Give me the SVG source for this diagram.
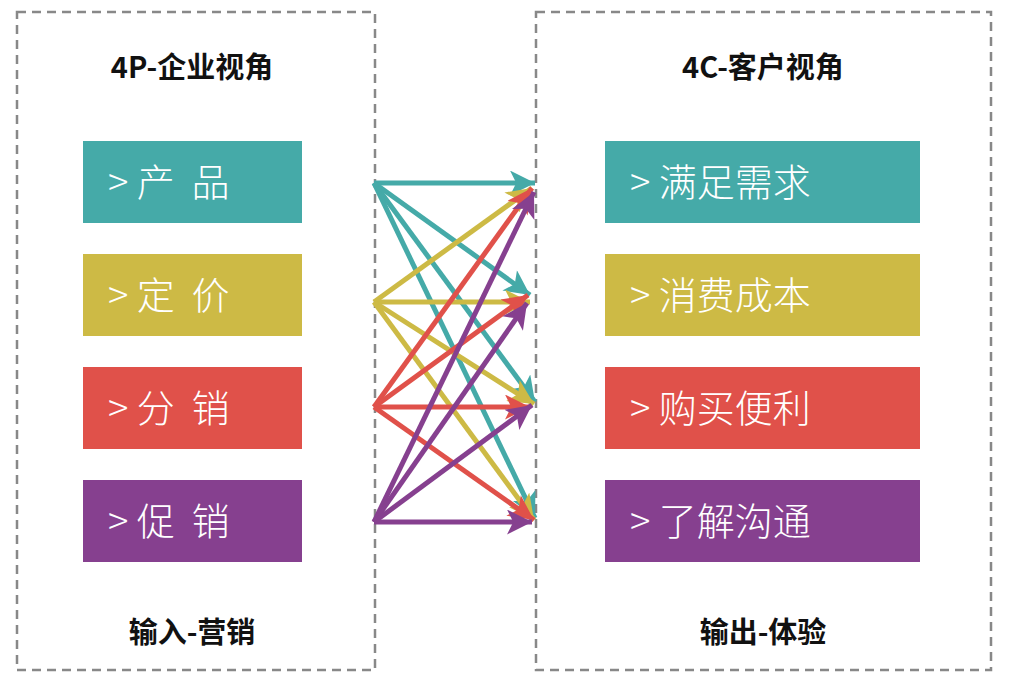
<svg xmlns="http://www.w3.org/2000/svg" width="1010" height="682" viewBox="0 0 1010 682">
<style>
.frame{fill:none;stroke:#888;stroke-width:2.5;stroke-dasharray:9 6}
.t{font-family:"Noto Sans CJK SC",sans-serif;font-weight:bold;font-size:29px;fill:#111;text-anchor:middle}
.l{font-family:"Noto Sans CJK SC",sans-serif;font-weight:300;font-size:38px;fill:#fff}
.c1{fill:#45AAA8}.c2{fill:#CDBA45}.c3{fill:#E0514A}.c4{fill:#86408F}
.a{stroke-width:5;fill:none}
</style>
<defs>
<marker id="m1" viewBox="0 0 10 10" refX="10" refY="5" markerWidth="5.5" markerHeight="5" orient="auto" markerUnits="strokeWidth"><path d="M0,0 L10,5 L0,10 L2.5,5z" fill="#45AAA8"/></marker>
<marker id="m2" viewBox="0 0 10 10" refX="10" refY="5" markerWidth="5.5" markerHeight="5" orient="auto" markerUnits="strokeWidth"><path d="M0,0 L10,5 L0,10 L2.5,5z" fill="#CDBA45"/></marker>
<marker id="m3" viewBox="0 0 10 10" refX="10" refY="5" markerWidth="5.5" markerHeight="5" orient="auto" markerUnits="strokeWidth"><path d="M0,0 L10,5 L0,10 L2.5,5z" fill="#E0514A"/></marker>
<marker id="m4" viewBox="0 0 10 10" refX="10" refY="5" markerWidth="5.5" markerHeight="5" orient="auto" markerUnits="strokeWidth"><path d="M0,0 L10,5 L0,10 L2.5,5z" fill="#86408F"/></marker>
</defs>
<rect width="1010" height="682" fill="#fff"/>
<g id="left-frame"><rect class="frame" x="17" y="12" width="358" height="658"/>
<text class="t" x="192" y="78">4P-企业视角</text><text class="t" x="192" y="643">输入-营销</text></g>
<g id="right-frame"><rect class="frame" x="536" y="12" width="455" height="658"/>
<text class="t" x="763" y="78">4C-客户视角</text><text class="t" x="763" y="643">输出-体验</text></g>
<g id="p1"><rect class="c1" x="83" y="141" width="219" height="82"/><text class="l" x="108" y="196" xml:space="preserve">&gt; 产  品</text></g>
<g id="p2"><rect class="c2" x="83" y="254" width="219" height="82"/><text class="l" x="108" y="309" xml:space="preserve">&gt; 定  价</text></g>
<g id="p3"><rect class="c3" x="83" y="367" width="219" height="82"/><text class="l" x="108" y="422" xml:space="preserve">&gt; 分  销</text></g>
<g id="p4"><rect class="c4" x="83" y="480" width="219" height="82"/><text class="l" x="108" y="535" xml:space="preserve">&gt; 促  销</text></g>
<g id="c1"><rect class="c1" x="605" y="141" width="315" height="82"/><text class="l" x="630" y="196">&gt; 满足需求</text></g>
<g id="c2"><rect class="c2" x="605" y="254" width="315" height="82"/><text class="l" x="630" y="309">&gt; 消费成本</text></g>
<g id="c3"><rect class="c3" x="605" y="367" width="315" height="82"/><text class="l" x="630" y="422">&gt; 购买便利</text></g>
<g id="c4"><rect class="c4" x="605" y="480" width="315" height="82"/><text class="l" x="630" y="535">&gt; 了解沟通</text></g>
<g id="connectors">
<g stroke="#45AAA8" class="a" marker-end="url(#m1)">
<line x1="374" y1="183" x2="535" y2="183"/><line x1="374" y1="183" x2="530" y2="295"/><line x1="374" y1="183" x2="535" y2="402"/><line x1="374" y1="183" x2="535" y2="518"/></g>
<g stroke="#CDBA45" class="a" marker-end="url(#m2)">
<line x1="374" y1="302" x2="532" y2="188"/><line x1="374" y1="302" x2="530" y2="302"/><line x1="374" y1="302" x2="534" y2="404"/><line x1="374" y1="302" x2="534" y2="520"/></g>
<g stroke="#E0514A" class="a" marker-end="url(#m3)">
<line x1="374" y1="407" x2="532" y2="188"/><line x1="374" y1="407" x2="528" y2="295"/><line x1="374" y1="407" x2="530" y2="407"/><line x1="374" y1="407" x2="534" y2="520"/></g>
<g stroke="#86408F" class="a" marker-end="url(#m4)">
<line x1="374" y1="522" x2="534" y2="192"/><line x1="374" y1="522" x2="527" y2="303"/><line x1="374" y1="522" x2="532" y2="405"/><line x1="374" y1="522" x2="532" y2="522"/></g>
</g>
</svg>
